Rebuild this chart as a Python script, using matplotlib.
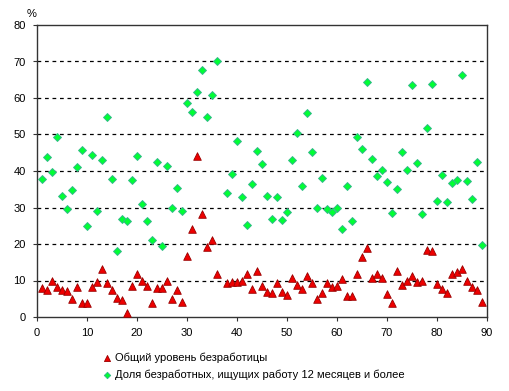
import matplotlib
matplotlib.use("Agg")
import matplotlib.pyplot as plt
import numpy as np

plt.rcParams['font.family'] = ['Liberation Sans', 'DejaVu Sans']

x_vals = [i for i in range(1, 90) if i != 37]

total_unemp = [8.0, 7.3, 10.0, 8.3, 7.3, 7.0, 5.0, 8.3, 3.9, 3.9,
               8.1, 9.5, 13.1, 9.2, 7.3, 5.1, 4.6, 1.2, 8.6, 11.7,
               10.0, 8.6, 3.9, 7.9, 7.9, 10.0, 4.8, 7.3, 4.2, 16.6,
               24.2, 44.2, 28.1, 19.3, 21.0, 11.7,
               9.2, 9.5, 9.5, 9.8, 11.7, 7.6, 12.5, 8.6, 6.9, 6.7,
               9.4, 6.9, 6.1, 10.6, 8.9, 7.8, 11.3, 9.4, 4.8, 6.7,
               9.4, 8.3, 8.6, 10.3, 5.8, 5.8, 11.7, 16.5, 19.0, 10.6,
               11.7, 10.8, 6.4, 3.9, 12.5, 8.9, 9.8, 11.1, 9.6, 10.0,
               18.3, 18.0, 9.1, 7.6, 6.7, 11.9, 12.2, 13.1, 9.8, 8.3,
               7.5, 4.2]

long_term = [37.9, 43.9, 39.7, 49.4, 33.2, 29.7, 34.9, 41.2, 45.8, 25.0,
             44.5, 29.1, 43.1, 54.9, 37.9, 18.2, 26.9, 26.4, 37.5, 44.2,
             31.0, 26.4, 21.2, 42.5, 19.5, 41.5, 30.0, 35.4, 29.1, 58.7,
             56.2, 61.7, 67.8, 54.9, 60.9, 70.2,
             34.1, 39.3, 48.3, 33.0, 25.3, 36.5, 45.6, 42.0, 33.2, 26.9,
             33.0, 26.7, 28.9, 43.1, 50.5, 36.0, 56.0, 45.3, 30.0, 38.2,
             29.7, 28.9, 30.0, 24.2, 36.0, 26.4, 49.4, 46.1, 64.5, 43.4,
             38.7, 40.4, 37.1, 28.6, 35.2, 45.3, 40.4, 63.6, 42.3, 28.3,
             51.9, 63.9, 31.9, 39.0, 31.6, 36.8, 37.6, 66.4, 37.3, 32.4,
             42.5, 19.8]

label_total = "Общий уровень безработицы"
label_long = "Доля безработных, ищущих работу 12 месяцев и более"
x_ticks = [0, 10, 20, 30, 40, 50, 60, 70, 80, 90]
y_ticks = [0, 10, 20, 30, 40, 50, 60, 70, 80]

fig = plt.figure(figsize=(5.1, 3.91), dpi=100)
ax = fig.add_axes([37/510, 74/391, 450/510, 292/391])

ax.scatter(x_vals, long_term, marker='D', s=16, color='#00FF33',
           edgecolors='#33BB88', linewidths=0.7, zorder=3, label=label_long)
ax.scatter(x_vals, total_unemp, marker='^', s=30, color='#EE0000',
           edgecolors='#990000', linewidths=0.6, zorder=4, label=label_total)

ax.set_xlim(0, 90)
ax.set_ylim(0, 80)
ax.set_xticks(x_ticks)
ax.set_yticks(y_ticks)
ax.tick_params(axis='both', labelsize=8, length=3, width=0.8, color='#333333', pad=5)
for s in ax.spines.values():
    s.set_color('#333333')
    s.set_linewidth(1.0)

for yv in y_ticks[1:-1]:
    ax.axhline(yv, color='black', linestyle=(0, (3, 3)), linewidth=0.9, zorder=1)

fig.text(32/510, 1 - 14/391, "%", fontsize=8, ha='center', va='center')

h, l = ax.get_legend_handles_labels()
leg = fig.legend([h[1], h[0]], [l[1], l[0]], loc='upper left',
                 bbox_to_anchor=(97/510, 1 - 347/391), frameon=False,
                 fontsize=8, handlelength=0.8, handletextpad=0.3,
                 labelspacing=0.6, borderpad=0, markerscale=0.8)

fig.savefig("out.png", dpi=100)
